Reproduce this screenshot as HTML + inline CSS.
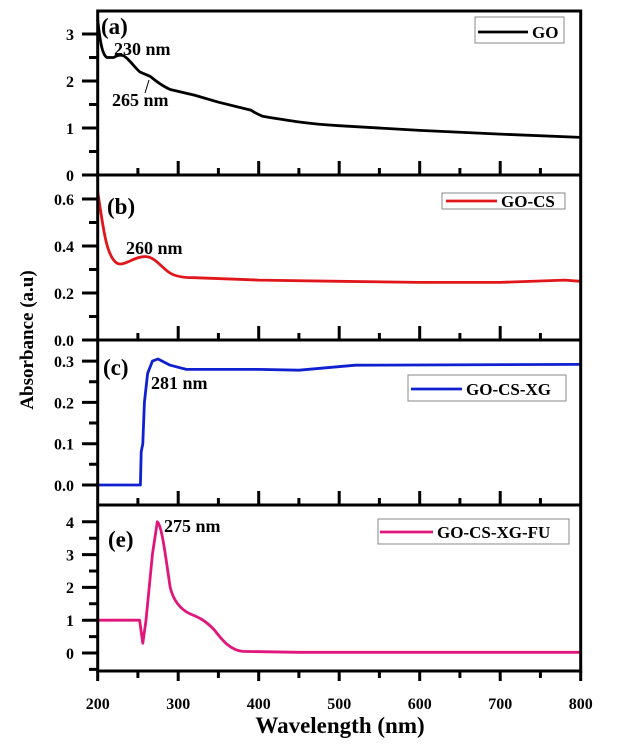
<!DOCTYPE html><html><head><style>body{margin:0;background:#fff}svg{display:block}text{font-family:"Liberation Serif",serif;font-weight:bold}</style></head><body>
<svg width="619" height="753" viewBox="0 0 619 753">
<g fill="none" stroke-width="2.8" stroke-linejoin="round">
<path stroke="#000" d="M97.7,19.9 C100,40 102,55 107,57.5 L113.8,57.5 Q119,54 124,56 C130,60 135,68 140,72 L150,76.3 C155,80 160,85 170.2,89.5 L194.3,95.1 L218.5,102.2 L250.7,110.1 Q257,114 262.7,116.3 C290,121 310,124 339,125.7 L419.7,130.4 L500,134.1 L580.7,137.4"/>
<path stroke="#e0161b" d="M97.7,192 C103,225 106,258 117.8,263.6 C125,266 135,256 146,256.6 C155,257 162,268 170,273 C178,278 190,277.7 194.3,277.7 L258.7,280.1 L339,281.3 L419.7,282.4 L500,282.4 L564.6,280.1 L580.7,281.3"/>
<polyline stroke="#1020d0" points="97.7,485 140.4,485 141.2,452 142.8,443.7 144.4,402.4 147.6,373.5 152.4,361.1 158,359 170.2,365.2 186.3,369.4 258.7,369.4 299,370.2 355.3,365.2 580.7,364.4"/>
<path stroke="#e0167a" d="M97.7,620.2 L139.6,620.2 L142.8,643.2 L146,620.2 L152.4,554.6 L157.3,521.8 C162,525 166,560 170.2,587.4 C174,603 182,610 190.3,614 C198,617 205,620 214.4,630 C222,640 230,650 242.6,651.4 L299,652.3 L580.7,652.3"/>
</g>
<g stroke="#000" stroke-width="3" fill="none">
<rect x="97.7" y="11" width="483" height="660"/>
<line x1="97.7" y1="175" x2="580.7" y2="175"/><line x1="97.7" y1="340" x2="580.7" y2="340"/><line x1="97.7" y1="505" x2="580.7" y2="505"/>
<path d="M82 175H97M82 128H97M82 81H97M82 34H97M89 151.5H97M89 104.5H97M89 57.5H97"/>
<path d="M82 340H97M82 293H97M82 246H97M82 199H97M89 316.5H97M89 269.5H97M89 222.5H97"/>
<path d="M82 485H97M82 443.7H97M82 402.4H97M82 361.1H97M89 464.3H97M89 423H97M89 381.7H97"/>
<path d="M82 653H97M82 620.2H97M82 587.4H97M82 554.6H97M82 521.8H97M89 669.4H97M89 636.6H97M89 603.8H97M89 571H97M89 538.2H97"/>
</g>
<g stroke="#000" stroke-width="3">
<path id="bt" d="M137.9 175v-7M178.2 175v-14M218.4 175v-7M258.7 175v-14M298.9 175v-7M339.2 175v-14M379.4 175v-7M419.7 175v-14M459.9 175v-7M500.2 175v-14M540.4 175v-7"/>
<use href="#bt" y="165"/><use href="#bt" y="330"/>
<path d="M97.7 671v10M137.9 671v7M178.2 671v10M218.4 671v7M258.7 671v10M298.9 671v7M339.2 671v10M379.4 671v7M419.7 671v10M459.9 671v7M500.2 671v10M540.4 671v7M580.7 671v10"/>
<line x1="145" y1="93" x2="149" y2="80" stroke-width="1"/>
</g>
<g font-size="16" text-anchor="end">
<text x="74" y="181">0</text><text x="74" y="134">1</text><text x="74" y="87">2</text><text x="74" y="40">3</text>
<text x="74" y="346">0.0</text><text x="74" y="299">0.2</text><text x="74" y="252">0.4</text><text x="74" y="205">0.6</text>
<text x="74" y="491">0.0</text><text x="74" y="449.7">0.1</text><text x="74" y="408.4">0.2</text><text x="74" y="367">0.3</text>
<text x="74" y="659">0</text><text x="74" y="626">1</text><text x="74" y="593">2</text><text x="74" y="560.6">3</text><text x="74" y="528">4</text>
</g>
<g font-size="16" text-anchor="middle">
<text x="97.7" y="709">200</text><text x="178.2" y="709">300</text><text x="258.7" y="709">400</text><text x="339.2" y="709">500</text><text x="419.7" y="709">600</text><text x="500.2" y="709">700</text><text x="580.7" y="709">800</text>
</g>
<text x="340" y="733" font-size="23" text-anchor="middle">Wavelength (nm)</text>
<text transform="translate(33,340) rotate(-90)" font-size="19" text-anchor="middle">Absorbance (a.u)</text>
<g font-size="23"><text x="101" y="34">(a)</text><text x="107" y="214">(b)</text><text x="103" y="375">(c)</text><text x="108" y="547">(e)</text></g>
<g font-size="18"><text x="114" y="55">230 nm</text><text x="112" y="106">265 nm</text><text x="126" y="254">260 nm</text><text x="151" y="389">281 nm</text><text x="164" y="532">275 nm</text></g>
<g fill="#fff" stroke="#888" stroke-width="1"><rect x="475" y="17" width="89" height="26"/><rect x="442" y="193" width="123" height="16"/><rect x="408" y="375" width="158" height="26"/><rect x="378" y="519" width="191" height="25"/></g>
<g stroke-width="2.8"><line x1="478" y1="32" x2="528" y2="32" stroke="#000"/><line x1="446" y1="201" x2="497" y2="201" stroke="#e0161b"/><line x1="411" y1="389" x2="462" y2="389" stroke="#1020d0"/><line x1="380" y1="532" x2="433" y2="532" stroke="#e0167a"/></g>
<g font-size="17"><text x="532" y="38">GO</text><text x="501" y="207">GO-CS</text><text x="466" y="395">GO-CS-XG</text><text x="437" y="538">GO-CS-XG-FU</text></g>
</svg></body></html>
